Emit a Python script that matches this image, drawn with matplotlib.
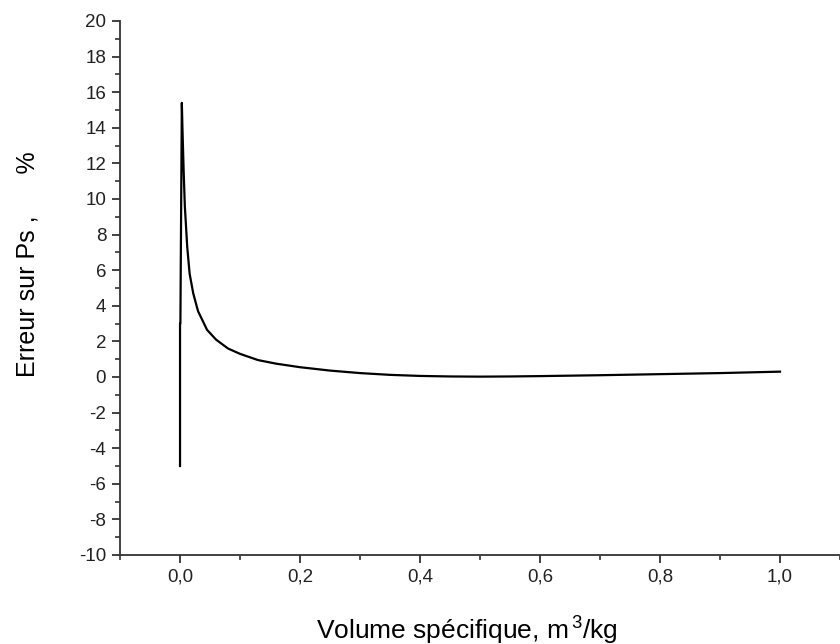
import matplotlib
matplotlib.use('Agg')
import matplotlib.pyplot as plt
from matplotlib.ticker import MultipleLocator, FuncFormatter

# specific volume (m3/kg) and error on Ps (%)
volume = [0.0, 0.0, 0.0006, 0.003, 0.004, 0.006, 0.008, 0.012, 0.016, 0.022,
          0.03, 0.045, 0.06, 0.08, 0.1, 0.13, 0.16, 0.2, 0.25, 0.3, 0.35,
          0.4, 0.45, 0.5, 0.55, 0.6, 0.7, 0.8, 0.9, 1.0]
erreur = [-5.0, 3.0, 3.0, 15.4, 14.0, 11.6, 9.6, 7.3, 5.8, 4.7,
          3.7, 2.65, 2.1, 1.6, 1.3, 0.95, 0.75, 0.55, 0.36, 0.22, 0.12,
          0.06, 0.03, 0.02, 0.03, 0.05, 0.1, 0.16, 0.22, 0.3]

plt.rcParams['font.family'] = ['Liberation Sans', 'DejaVu Sans']
plt.rcParams['mathtext.fontset'] = 'custom'
plt.rcParams['mathtext.rm'] = 'Liberation Sans'

fig = plt.figure(figsize=(8.4, 6.44), dpi=100)
ax = fig.add_axes([0.1429, 0.1382, 0.8571, 0.8292])

ax.plot(volume, erreur, color='black', linewidth=1.6)

ax.set_xlim(-0.1, 1.1)
ax.set_ylim(-10, 20)

ax.spines['top'].set_visible(False)
ax.spines['right'].set_visible(False)
for s in ['left', 'bottom']:
    ax.spines[s].set_linewidth(1.3)
    ax.spines[s].set_color('#333333')

ax.xaxis.set_major_locator(MultipleLocator(0.2))
ax.xaxis.set_minor_locator(MultipleLocator(0.1))
ax.yaxis.set_major_locator(MultipleLocator(2))
ax.yaxis.set_minor_locator(MultipleLocator(1))
ax.xaxis.set_major_formatter(FuncFormatter(lambda v, p: f'{v:.1f}'.replace('.', ',').replace('-0,0', '0,0')))
ax.yaxis.set_major_formatter(FuncFormatter(lambda v, p: f'{v:.0f}'))

ax.tick_params(which='major', direction='out', length=6, width=1.3, color='#333333',
               labelsize=13.5, labelcolor='#222222', pad=4)
ax.tick_params(which='minor', direction='out', length=3.5, width=1.2, color='#333333')

ax.set_xlabel(r'Volume spécifique, m$^{\,3}$/kg', fontsize=19)
ax.xaxis.set_label_coords(0.482, -0.108)
ax.set_ylabel('Erreur sur Ps ,      %', fontsize=18)
ax.yaxis.set_label_coords(-0.112, 0.545)

fig.savefig('out.png', dpi=100)
